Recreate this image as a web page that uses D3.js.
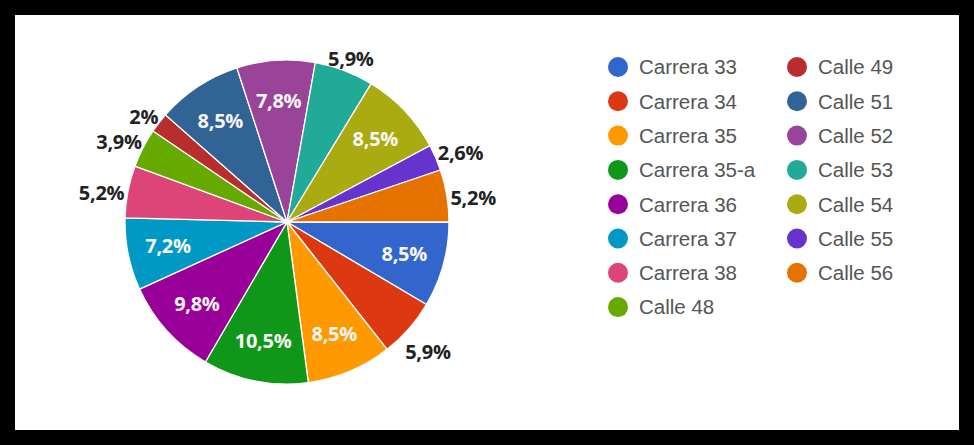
<!DOCTYPE html>
<html>
<head>
<meta charset="utf-8">
<script src="https://cdn.jsdelivr.net/npm/d3@7"></script>
<style>
  html, body { margin: 0; padding: 0; background: #000; }
  svg { display: block; }
</style>
</head>
<body>
<svg id="chart" width="974" height="445"></svg>
<script>
// Street names and their share of the total (%)
const categories = [
  "Carrera 33", "Carrera 34", "Carrera 35", "Carrera 35-a", "Carrera 36",
  "Carrera 37", "Carrera 38", "Calle 48", "Calle 49", "Calle 51",
  "Calle 52", "Calle 53", "Calle 54", "Calle 55", "Calle 56"
];
const shares = [8.5, 5.9, 8.5, 10.5, 9.8, 7.2, 5.2, 3.9, 2, 8.5, 7.8, 5.9, 8.5, 2.6, 5.2];
const palette = [
  "#3366cc", "#dc3912", "#ff9900", "#109618", "#990099",
  "#0099c6", "#dd4477", "#66aa00", "#b82e2e", "#316395",
  "#994499", "#22aa99", "#aaaa11", "#6633cc", "#e67300"
];

const W = 974, H = 445;
const svg = d3.select("#chart");

// black frame with white card
svg.append("rect").attr("width", W).attr("height", H).attr("fill", "#000");
svg.append("rect").attr("x", 15).attr("y", 15).attr("width", 944).attr("height", 415)
  .attr("fill", "#fff");

const cx = 287, cy = 222, R = 162;
const data = categories.map((c, i) => ({ name: c, value: shares[i] }));

const color = d3.scaleOrdinal().domain(categories).range(palette);

const pie = d3.pie().value(d => d.value).sort(null)
  .startAngle(Math.PI / 2).endAngle(Math.PI / 2 + 2 * Math.PI);
const arcs = pie(data);
const arc = d3.arc().innerRadius(0).outerRadius(R);

const g = svg.append("g").attr("transform", `translate(${cx},${cy})`);

g.selectAll("path.slice").data(arcs).join("path")
  .attr("class", "slice")
  .attr("d", arc)
  .attr("fill", d => color(d.data.name))
  .attr("stroke", "#fff")
  .attr("stroke-width", 1.3);

const fmt = v => String(v).replace(".", ",") + "%";
const labelFont = "'Open Sans', 'DejaVu Sans', sans-serif";

// labels inside larger slices
const innerArc = d3.arc().innerRadius(R * 0.75).outerRadius(R * 0.75);
g.selectAll("text.inlabel").data(arcs.filter(d => d.data.value >= 7)).join("text")
  .attr("class", "inlabel")
  .attr("transform", d => `translate(${innerArc.centroid(d)})`)
  .attr("text-anchor", "middle")
  .attr("dy", "0.36em")
  .attr("fill", "#f7f7f7")
  .attr("font-family", labelFont)
  .attr("font-weight", 700)
  .attr("font-size", 20)
  .attr("letter-spacing", -0.3)
  .text(d => fmt(d.data.value));

// labels outside the smaller slices
const outer = arcs.filter(d => d.data.value < 7);
const outLabels = g.selectAll("text.outlabel").data(outer).join("text")
  .attr("class", "outlabel")
  .attr("text-anchor", "middle")
  .attr("fill", "#222")
  .attr("font-family", labelFont)
  .attr("font-weight", 700)
  .attr("font-size", 20)
  .attr("letter-spacing", -0.3)
  .text(d => fmt(d.data.value));

outLabels.each(function (d) {
  const w = this.getComputedTextLength();
  const h = 16;
  const a = (d.startAngle + d.endAngle) / 2;
  const sx = Math.sin(a), sy = -Math.cos(a);
  const dist = R + 3 + (w / 2) * Math.abs(sx) + (h / 2) * Math.abs(sy);
  d3.select(this)
    .attr("x", dist * sx)
    .attr("y", dist * sy + 6)
    .attr("dy", "0.36em");
});

// legend in two columns
const legendX = [618, 797], legendY0 = 67, rowH = 34.3, perCol = 8;
const legend = svg.append("g").selectAll("g").data(data).join("g")
  .attr("transform", (d, i) => {
    const col = Math.floor(i / perCol), row = i % perCol;
    return `translate(${legendX[col]},${legendY0 + row * rowH})`;
  });
legend.append("circle").attr("r", 10).attr("fill", d => color(d.name));
legend.append("text")
  .attr("x", 21).attr("dy", "0.36em")
  .attr("fill", "#555")
  .attr("font-family", "'Liberation Sans', Arial, sans-serif")
  .attr("font-size", 20.5)
  .text(d => d.name);
</script>
</body>
</html>
